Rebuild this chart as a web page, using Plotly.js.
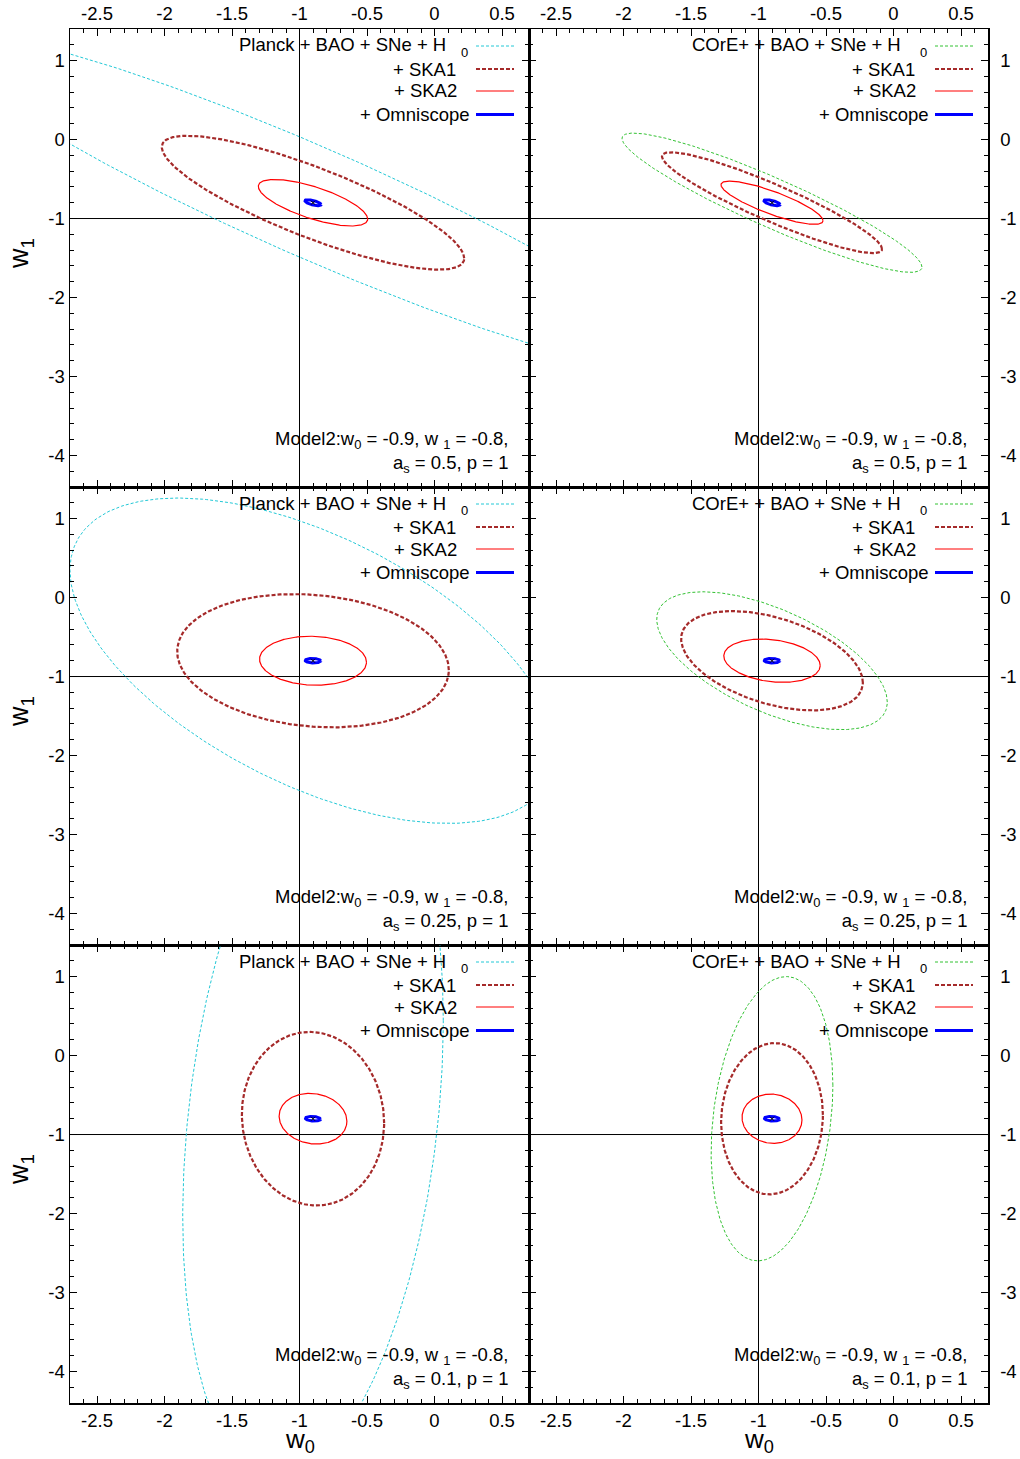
<!DOCTYPE html>
<html><head><meta charset="utf-8">
<script src="https://cdn.plot.ly/plotly-3.0.1.min.js"></script>
<style>html,body{margin:0;padding:0;background:#fff}</style>
</head><body><div id="chart" style="width:1020px;height:1459px"></div>
<script>
// ---------- data ----------
const w0Fid = -0.9, w1Fid = -0.8;          // fiducial (centre of all ellipses)
const asValues = ['0.5', '0.25', '0.1'];    // a_s of each row
const vLineW0 = -1, hLineW1 = -1;           // reference lines

// ellipse parameters, one entry per row (a_s = 0.5, 0.25, 0.1)
// half extent in w0, half extent in w1, correlation
const planckHalfW0 = [2.71, 1.80, 0.965];
const planckHalfW1 = [2.12, 2.06, 4.55];
const planckCorr   = [-0.933, -0.556, 0.273];
const coreHalfW0   = [1.111, 0.854, 0.451];
const coreHalfW1   = [0.882, 0.873, 1.80];
const coreCorr     = [-0.923, -0.60, 0.235];
const ska1PlHalfW0 = [1.12, 1.006, 0.527];
const ska1PlHalfW1 = [0.848, 0.844, 1.099];
const ska1PlCorr   = [-0.83, -0.14, -0.05];
const ska1CoHalfW0 = [0.815, 0.673, 0.377];
const ska1CoHalfW1 = [0.639, 0.629, 0.958];
const ska1CoCorr   = [-0.917, -0.44, 0.05];
const ska2PlHalfW0 = [0.405, 0.396, 0.251];
const ska2PlHalfW1 = [0.295, 0.31, 0.321];
const ska2PlCorr   = [-0.70, -0.06, -0.10];
const ska2CoHalfW0 = [0.378, 0.357, 0.222];
const ska2CoHalfW1 = [0.274, 0.274, 0.312];
const ska2CoCorr   = [-0.83, -0.22, -0.05];
const omniHalfW0   = [0.060, 0.058, 0.056];
const omniHalfW1   = [0.038, 0.028, 0.030];
const omniCorr     = [-0.65, -0.1, -0.2];

const xTickVals = [-2.5, -2, -1.5, -1, -0.5, 0, 0.5];
const xTickText = ['-2.5', '-2', '-1.5', '-1', '-0.5', '0', '0.5'];
const yTickVals = [1, 0, -1, -2, -3, -4];
const yTickText = ['1', '0', '-1', '-2', '-3', '-4'];
const baseLabels = ['Planck + BAO + SNe + H', 'COrE+ + BAO + SNe + H'];
const addLabels = ['+ SKA1', '+ SKA2', '+ Omniscope'];

// ---------- layout helpers ----------
const W = 1020, H = 1459;
const colLeft = [70, 529], colW = 459;
const rowTop = [29, 487, 945], rowH = 458;
const px = v => v / W, py = v => 1 - v / H;
const FONT = 'Liberation Sans, Arial, sans-serif';
const FS = 18.5;

const cyan = '#22c8d6', green = '#33c233', brown = '#a52a2a', red = '#ff0000', blue = '#0000ff';
const styles = {
  planck: {color: cyan, width: 1, dash: '3px,2px'},
  core:   {color: green, width: 1, dash: '3px,2px'},
  ska1:   {color: brown, width: 2.2, dash: '4px,2px'},
  ska2:   {color: red, width: 1.2, dash: 'solid'},
  omni:   {color: blue, width: 3, dash: 'solid'}
};
const lineOf = key => ({color: styles[key].color, width: styles[key].width, dash: styles[key].dash});

function ellipse(hx, hy, rho) {
  const xs = [], ys = [];
  const s = Math.sqrt(1 - rho * rho);
  for (let k = 0; k <= 360; k++) {
    const t = k * Math.PI / 180;
    xs.push(w0Fid + hx * Math.cos(t));
    ys.push(w1Fid + hy * (rho * Math.cos(t) + s * Math.sin(t)));
  }
  return {xs, ys};
}

const traces = [], shapes = [], annotations = [];
const layout = {
  width: W, height: H, margin: {l: 0, r: 0, t: 0, b: 0},
  paper_bgcolor: '#fff', plot_bgcolor: '#fff', showlegend: false,
  font: {family: FONT, size: FS, color: '#000'}
};

for (let r = 0; r < 3; r++) {
  for (let c = 0; c < 2; c++) {
    const i = r * 2 + c + 1;
    const xa = 'x' + (i === 1 ? '' : i), ya = 'y' + (i === 1 ? '' : i);
    const xk = 'xaxis' + (i === 1 ? '' : i), yk = 'yaxis' + (i === 1 ? '' : i);
    const x0 = colLeft[c], y0 = rowTop[r];
    layout[xk] = {
      domain: [px(x0), px(x0 + colW)], range: [-2.7, 0.7], anchor: ya,
      tickmode: 'array', tickvals: xTickVals, ticktext: xTickText,
      ticks: 'inside', ticklen: 7, tickwidth: 1, tickcolor: '#000',
      minor: {tickmode: 'linear', tick0: 0, dtick: 0.1, ticks: 'inside', ticklen: 4, tickwidth: 1, tickcolor: '#000'},
      mirror: 'allticks', showline: true, linecolor: '#000', linewidth: 1.5,
      showgrid: false, zeroline: false, side: r === 0 ? 'top' : 'bottom',
      showticklabels: r !== 1, tickfont: {family: FONT, size: FS, color: '#000'},
      fixedrange: true
    };
    layout[yk] = {
      domain: [py(y0 + rowH), py(y0)], range: [-4.4, 1.4], anchor: xa,
      tickmode: 'array', tickvals: yTickVals, ticktext: yTickText,
      ticks: 'inside', ticklen: 7, tickwidth: 1, tickcolor: '#000',
      minor: {tickmode: 'linear', tick0: 0, dtick: 0.2, ticks: 'inside', ticklen: 4, tickwidth: 1, tickcolor: '#000'},
      mirror: 'allticks', showline: true, linecolor: '#000', linewidth: 1.5,
      showgrid: false, zeroline: false, side: c === 0 ? 'left' : 'right',
      ticklabelstandoff: c === 0 ? 0 : 7,
      tickfont: {family: FONT, size: FS, color: '#000'}, fixedrange: true
    };
    // reference lines
    shapes.push({type: 'line', xref: xa, yref: ya, x0: -2.7, x1: 0.7, y0: hLineW1, y1: hLineW1, line: {color: '#000', width: 1}, layer: 'below'});
    shapes.push({type: 'line', xref: xa, yref: ya, x0: vLineW0, x1: vLineW0, y0: -4.4, y1: 1.4, line: {color: '#000', width: 1}, layer: 'below'});

    // ellipses
    const sets = c === 0
      ? [['planck', planckHalfW0, planckHalfW1, planckCorr], ['ska1', ska1PlHalfW0, ska1PlHalfW1, ska1PlCorr], ['ska2', ska2PlHalfW0, ska2PlHalfW1, ska2PlCorr], ['omni', omniHalfW0, omniHalfW1, omniCorr]]
      : [['core', coreHalfW0, coreHalfW1, coreCorr], ['ska1', ska1CoHalfW0, ska1CoHalfW1, ska1CoCorr], ['ska2', ska2CoHalfW0, ska2CoHalfW1, ska2CoCorr], ['omni', omniHalfW0, omniHalfW1, omniCorr]];
    sets.forEach(([key, hxA, hyA, rA]) => {
      const e = ellipse(hxA[r], hyA[r], rA[r]);
      traces.push({type: 'scatter', mode: 'lines', x: e.xs, y: e.ys, xaxis: xa, yaxis: ya,
        line: lineOf(key), hoverinfo: 'skip'});
    });
    traces.push({type: 'scatter', mode: 'markers', x: [w0Fid], y: [w1Fid], xaxis: xa, yaxis: ya,
      marker: {symbol: 'x-thin', size: 4, line: {width: 1, color: '#000'}}, hoverinfo: 'skip'});

    // legend (drawn manually, gnuplot style: text right-aligned, sample on the right)
    const legY = [16, 40, 62, 85.5];
    const legLineY = [17, 40, 62, 85.5];
    const legRight = [c === 0 ? 378 : 374, 388, 389, 402];
    const legKeys = [c === 0 ? 'planck' : 'core', 'ska1', 'ska2', 'omni'];
    const legText = [baseLabels[c]].concat(addLabels);
    for (let k = 0; k < 4; k++) {
      annotations.push({xref: 'paper', yref: 'paper', x: px(x0 + legRight[k]), y: py(y0 + legY[k]),
        xanchor: 'right', yanchor: 'middle', showarrow: false, text: legText[k],
        font: {family: FONT, size: FS, color: '#000'}});
      shapes.push({type: 'line', xref: 'paper', yref: 'paper', x0: px(x0 + 406), x1: px(x0 + 444),
        y0: py(y0 + legLineY[k]), y1: py(y0 + legLineY[k]), layer: 'above', line: lineOf(legKeys[k])});
    }
    annotations.push({xref: 'paper', yref: 'paper', x: px(x0 + 394), y: py(y0 + 23.5),
      xanchor: 'center', yanchor: 'middle', showarrow: false, text: '0',
      font: {family: FONT, size: 13, color: '#000'}});

    // model text (two right-aligned lines)
    annotations.push({xref: 'paper', yref: 'paper', x: px(x0 + 440), y: py(y0 + 423),
      xanchor: 'right', yanchor: 'middle', align: 'right', showarrow: false,
      text: 'Model2:w<sub>0</sub> = -0.9, w <sub>1</sub> = -0.8,<br>a<sub>s</sub> = ' + asValues[r] + ', p = 1',
      font: {family: FONT, size: 18.5, color: '#000'}});

    // axis titles
    if (c === 0) {
      annotations.push({xref: 'paper', yref: 'paper', x: px(21), y: py(y0 + 225),
        xanchor: 'center', yanchor: 'middle', showarrow: false, textangle: -90,
        text: 'w<sub>1</sub>', font: {family: FONT, size: 27, color: '#000'}});
    }
    if (r === 2) {
      annotations.push({xref: 'paper', yref: 'paper', x: px(x0 + 229.5), y: py(1440),
        xanchor: 'center', yanchor: 'middle', showarrow: false,
        text: 'w<sub>0</sub>', font: {family: FONT, size: 26, color: '#000'}});
    }
  }
}
layout.shapes = shapes;
layout.annotations = annotations;
Plotly.newPlot('chart', traces, layout, {staticPlot: true, displayModeBar: false});
</script></body></html>
